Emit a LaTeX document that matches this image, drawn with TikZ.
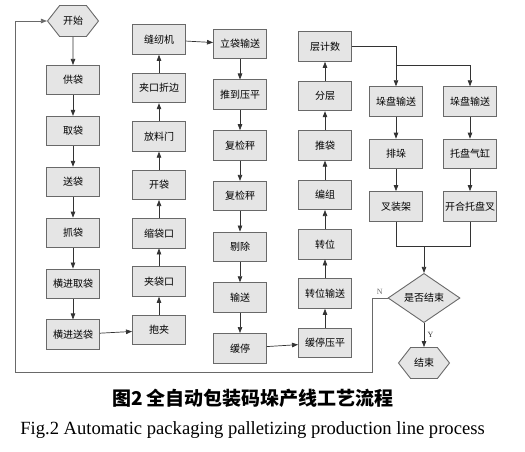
\documentclass[tikz,border=0pt]{standalone}
\usepackage{fontspec}
\setmainfont{Liberation Serif}
\newfontfamily\cjk{Noto Sans CJK SC}
\usetikzlibrary{shapes.geometric, shapes.symbols, arrows.meta, positioning, calc}
\definecolor{boxgray}{RGB}{229,229,229}
\definecolor{linegray}{RGB}{105,105,105}

\begin{document}
\begin{tikzpicture}[x=1pt, y=-1pt,
    box/.style={draw=linegray, fill=boxgray, line width=0.9pt,
                minimum width=53pt, minimum height=29.5pt, inner sep=0pt,
                font=\cjk\fontsize{10}{12}\selectfont},
    hexa/.style={signal, signal to=west and east, signal pointer angle=104,
                 draw=linegray, fill=boxgray, line width=0.9pt,
                 minimum width=51pt, minimum height=31pt, inner sep=0pt,
                 font=\cjk\fontsize{10}{12}\selectfont},
    decide/.style={diamond, draw=linegray, fill=boxgray, line width=0.9pt,
                   minimum width=72pt, minimum height=43pt, inner sep=0pt,
                   font=\cjk\fontsize{10}{12}\selectfont},
    arr/.style={-{Triangle[length=6pt, width=4.5pt]}, line width=0.7pt, black!80},
    line/.style={line width=0.7pt, black!80}
  ]
    \useasboundingbox (0,0) rectangle (525,452);

    % bag feeding
    \node[hexa] (start) at (73,21) {开始};
    \node[box, below=28pt of start] (gongdai) {供袋};
    \node[box, below=20.5pt of gongdai] (qudai) {取袋};
    \node[box, below=20.5pt of qudai] (songdai) {送袋};
    \node[box, below=20.5pt of songdai] (zhuadai) {抓袋};
    \node[box, below=20.5pt of zhuadai] (hengqu) {横进取袋};
    \node[box, below=20.5pt of hengqu] (hengsong) {横进送袋};

    % bag closing
    \node[box] (baojia) at (159,330) {抱夹};
    \node[box, above=18pt of baojia] (jiakou) {夹袋口};
    \node[box, above=18pt of jiakou] (suokou) {缩袋口};
    \node[box, above=18pt of suokou] (kaidai) {开袋};
    \node[box, above=18pt of kaidai] (fangliao) {放料门};
    \node[box, above=18pt of fangliao] (zhebian) {夹口折边};
    \node[box, above=18pt of zhebian] (fengren) {缝纫机};

    % checking
    \node[box] (lidai) at (240,44) {立袋输送};
    \node[box, below=20.3pt of lidai] (tuiping) {推到压平};
    \node[box, below=20.3pt of tuiping] (fujian) {复检秤};
    \node[box, below=20.3pt of fujian] (fujianb) {复检秤};
    \node[box, below=20.3pt of fujianb] (tichu) {剔除};
    \node[box, below=20.3pt of tichu] (shusong) {输送};
    \node[box, below=20.3pt of shusong] (huanting) {缓停};

    % layering
    \node[box] (huanyp) at (325,343) {缓停压平};
    \node[box, above=19pt of huanyp] (zwshusong) {转位输送};
    \node[box, above=19pt of zwshusong] (zhuanwei) {转位};
    \node[box, above=19pt of zhuanwei] (bianzu) {编组};
    \node[box, above=19pt of bianzu] (tuidai) {推袋};
    \node[box, above=19pt of tuidai] (fenceng) {分层};
    \node[box, above=19pt of fenceng] (cengshu) {层计数};

    % pallets
    \node[box] (duopana) at (396,101.5) {垛盘输送};
    \node[box, below=22pt of duopana] (paiduo) {排垛};
    \node[box, below=22pt of paiduo] (chajia) {叉装架};
    \node[box] (duopanb) at (470,101.5) {垛盘输送};
    \node[box, below=22pt of duopanb] (qigang) {托盘气缸};
    \node[box, below=22pt of qigang] (tuocha) {开合托盘叉};

    \node[decide] (ending) at (424,298) {是否结束};
    \node[hexa, below=24pt of ending] (jieshu) {结束};

    \coordinate (split) at (396,65);
    \coordinate (merge) at (424,246);
    \coordinate (nbend) at (372,372);
    \coordinate (lbend) at (15,372);

    \draw[arr] (start) -- (gongdai);
    \draw[arr] (gongdai) -- (qudai);
    \draw[arr] (qudai) -- (songdai);
    \draw[arr] (songdai) -- (zhuadai);
    \draw[arr] (zhuadai) -- (hengqu);
    \draw[arr] (hengqu) -- (hengsong);
    \draw[arr] (hengsong) -- (baojia);

    \draw[arr] (baojia) -- (jiakou);
    \draw[arr] (jiakou) -- (suokou);
    \draw[arr] (suokou) -- (kaidai);
    \draw[arr] (kaidai) -- (fangliao);
    \draw[arr] (fangliao) -- (zhebian);
    \draw[arr] (zhebian) -- (fengren);
    \draw[arr] (fengren) -- (lidai);

    \draw[arr] (lidai) -- (tuiping);
    \draw[arr] (tuiping) -- (fujian);
    \draw[arr] (fujian) -- (fujianb);
    \draw[arr] (fujianb) -- (tichu);
    \draw[arr] (tichu) -- (shusong);
    \draw[arr] (shusong) -- (huanting);
    \draw[arr] (huanting) -- (huanyp);

    \draw[arr] (huanyp) -- (zwshusong);
    \draw[arr] (zwshusong) -- (zhuanwei);
    \draw[arr] (zhuanwei) -- (bianzu);
    \draw[arr] (bianzu) -- (tuidai);
    \draw[arr] (tuidai) -- (fenceng);
    \draw[arr] (fenceng) -- (cengshu);

    \draw[arr] (cengshu.east) -| (duopana.north);
    \draw[arr] (split) -| (duopanb.north);
    \draw[arr] (duopana) -- (paiduo);
    \draw[arr] (paiduo) -- (chajia);
    \draw[arr] (duopanb) -- (qigang);
    \draw[arr] (qigang) -- (tuocha);

    \draw[line] (chajia.south) |- (merge);
    \draw[line] (tuocha.south) |- (merge);
    \draw[arr] (merge) -- (ending.north);
    \draw[arr] (ending.south) -- node[right, font=\footnotesize]{Y} (jieshu.north);
    \draw[arr, linegray] (ending.west) -- node[above, font=\footnotesize]{N}
      (ending.west -| nbend) -- (nbend) -- (lbend) |- (start.west);

    % caption
    \node[font=\cjk\bfseries\fontsize{19}{21}\selectfont] (title) at (253,398)
      {图2 全自动包装码垛产线工艺流程};
    \node[font=\fontsize{18.6}{20}\selectfont] (entitle) at (252.5,430)
      {Fig.2 Automatic packaging palletizing production line process};
  \end{tikzpicture}
\end{document}
